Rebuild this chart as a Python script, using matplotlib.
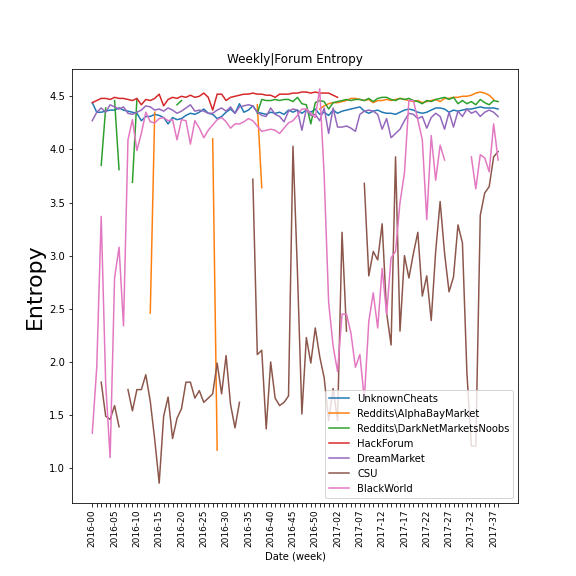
import numpy as np
import matplotlib
matplotlib.use("Agg")
import matplotlib.pyplot as plt

nan = np.nan
# week labels: 2016-00 .. 2016-52, 2017-00 .. 2017-38
weeks = ["2016-%02d" % w for w in range(53)] + ["2017-%02d" % w for w in range(39)]

unknown_cheats = [4.44, 4.35, 4.35, 4.36, 4.37, 4.37, 4.39, 4.37, 4.36, 4.35,
                  4.34, 4.27, 4.31, 4.31, 4.33, 4.32, 4.30, 4.24, 4.30, 4.28,
                  4.29, 4.32, 4.34, 4.33, 4.35, 4.38, 4.34, 4.33, 4.29, 4.31,
                  4.35, 4.38, 4.34, 4.43, 4.35, 4.37, 4.41, 4.35, 4.34, 4.33,
                  4.35, 4.34, 4.35, 4.33, 4.37, 4.35, 4.37, 4.34, 4.37, 4.35,
                  4.38, 4.33, 4.35, 4.32, 4.37, 4.34, 4.36, 4.37, 4.38, 4.39,
                  4.40, 4.36, 4.34, 4.36, 4.37, 4.35, 4.34, 4.34, 4.33, 4.35,
                  4.37, 4.38, 4.37, 4.35, 4.34, 4.35, 4.37, 4.39, 4.39, 4.38,
                  4.35, 4.37, 4.36, 4.37, 4.38, 4.38, 4.39, 4.40, 4.39, 4.39,
                  4.39, 4.38]

alphabay = [nan] * 13 + [2.46, 4.35] + [nan] * 12 + [4.10, 1.17] + [nan] * 8 + [4.42, 3.64] + [nan] * 12 + \
           [4.38, 4.41, 4.43, 4.44, 4.44, 4.45, 4.46, 4.48, 4.48,
            4.47, 4.46, 4.47, 4.44, 4.46, 4.46, 4.47, 4.46, 4.47, 4.48,
            4.47, 4.46, 4.45, 4.46, 4.44, 4.45, 4.46, 4.47, 4.45, 4.48,
            4.48, 4.49, 4.49, 4.50, 4.50, 4.51, 4.53, 4.54, 4.53, 4.51,
            4.47, nan]

darknet_noobs = [nan, nan, 3.85, 4.39, nan, 4.46, 3.81, nan, nan, 3.69,
                 4.47, nan, nan, nan, nan, nan, nan, nan, nan, 4.42,
                 4.46] + [nan] * 16 + \
                [4.34, 4.47, 4.46, 4.46, 4.47, 4.46, 4.47, 4.47, 4.45, 4.49,
                 4.43, 4.42, 4.24, 4.44, 4.46, 4.45, 4.38, 4.44, 4.45, 4.46,
                 4.47, 4.46, 4.47, 4.47, 4.46, 4.48, 4.45, 4.48, 4.49, 4.49,
                 4.47, 4.46, 4.48, 4.47, 4.48, 4.46, 4.45, 4.43, 4.46, 4.45,
                 4.47, 4.48, 4.49, 4.47, 4.49, 4.43, 4.46, 4.43, 4.45, 4.42,
                 4.47, 4.44, 4.42, 4.46, 4.45]

hackforum = [4.44, 4.46, 4.48, 4.48, 4.47, 4.49, 4.48, 4.48, 4.47, 4.46,
             4.48, 4.42, 4.47, 4.46, 4.48, 4.52, 4.41, 4.47, 4.49, 4.48,
             4.50, 4.49, 4.51, 4.49, 4.50, 4.53, 4.49, 4.37, 4.52, 4.52,
             4.46, 4.49, 4.50, 4.51, 4.52, 4.52, 4.53, 4.52, 4.52, 4.51,
             4.51, 4.49, 4.52, 4.52, 4.52, 4.53, 4.53, 4.54, 4.54, 4.53,
             4.54, 4.53, 4.53, 4.53, 4.51, 4.49] + [nan] * 36

dreammarket = [4.27, 4.35, 4.39, 4.35, 4.42, 4.40, 4.38, 4.40, 4.34, 4.33,
               4.35, 4.37, 4.41, 4.40, 4.37, 4.38, 4.36, 4.39, 4.37, 4.34,
               4.36, 4.39, 4.42, 4.36, 4.37, 4.36, 4.34, 4.34, 4.37, 4.39,
               4.36, 4.40, 4.34, 4.40, 4.41, 4.42, 4.41, 4.35, 4.32, 4.31,
               4.39, 4.33, 4.31, 4.26, 4.36, 4.38, 4.37, 4.18, 4.38, 4.32,
               4.33, 4.27, 4.39, 4.15, 4.39, 4.21, 4.21, 4.22, 4.20, 4.17,
               4.33, 4.36, 4.37, 4.36, 4.33, 4.19, 4.29, 4.11, 4.15, 4.19,
               4.27, 4.34, 4.33, 4.29, 4.31, 4.20, 4.30, 4.34, 4.31, 4.19,
               4.35, 4.21, 4.36, 4.31, 4.38, 4.34, 4.36, 4.31, 4.35, 4.37,
               4.35, 4.31]

csu = [nan, nan, 1.81, 1.49, 1.46, 1.59, 1.39, nan, 1.74, 1.54,
       1.74, 1.74, 1.88, 1.63, 1.27, 0.86, 1.49, 1.67, 1.28, 1.47,
       1.56, 1.81, 1.81, 1.66, 1.73, 1.62, 1.66, 1.70, 1.99, 1.70,
       2.06, 1.60, 1.38, 1.62, nan, nan, 3.72, 2.07, 2.11, 1.37,
       2.00, 1.66, 1.59, 1.62, 1.68, 4.03, 2.85, 1.51, 2.23, 1.99,
       2.32, 2.05, 1.85, 1.45, 1.75, 1.45, 3.22, 2.29, nan, nan,
       nan, 3.68, 2.81, 3.04, 2.96, 3.30, 2.46, 2.16, 3.93, 2.29,
       3.00, 2.79, 3.02, 3.22, 2.62, 2.81, 2.39, 3.04, 3.51, 3.02,
       2.66, 2.80, 3.29, 3.12, 1.90, 1.21, 1.21, 3.38, 3.59, 3.65,
       3.93, 3.98]

blackworld = [1.33, 1.95, 3.37, 1.80, 1.10, 2.79, 3.08, 2.34, 4.09, 4.28,
              3.99, 4.15, 4.35, 4.26, 4.25, 4.29, 4.30, 4.27, 4.28, 4.09,
              4.28, 4.27, 4.05, 4.27, 4.20, 4.11, 4.18, 4.23, 4.28, 4.30,
              4.26, 4.20, 4.24, 4.24, 4.26, 4.29, 4.27, 4.22, 4.17, 4.18,
              4.19, 4.18, 4.15, 4.20, 4.25, 4.27, 4.32, 4.38, 4.38, 4.34,
              4.30, 4.57, 3.75, 2.56, 2.15, 1.91, 2.45, 2.45, 2.27, 1.95,
              2.07, 1.65, 2.38, 2.65, 2.32, 2.88, 2.45, 2.98, 3.04, 3.50,
              3.78, 4.46, 4.46, 4.28, 4.09, 3.34, 4.13, 3.71, 4.04, 3.90,
              nan, nan, nan, nan, nan, 3.93, 3.63, 3.95, 3.92, 3.79,
              4.24, 3.90]

series = [("UnknownCheats", unknown_cheats),
          ("Reddits\\AlphaBayMarket", alphabay),
          ("Reddits\\DarkNetMarketsNoobs", darknet_noobs),
          ("HackForum", hackforum),
          ("DreamMarket", dreammarket),
          ("CSU", csu),
          ("BlackWorld", blackworld)]

fig = plt.figure(figsize=(8, 8), dpi=72)
ax = fig.add_subplot(111)
fig.subplots_adjust(left=0.125, right=0.9, top=0.88, bottom=0.127)
x = np.arange(len(weeks))
for name, vals in series:
    ax.plot(x, vals, label=name)

ax.set_xticks(x)
ax.set_xticklabels([w if i % 5 == 0 else "" for i, w in enumerate(weeks)], rotation=90, fontsize=9)
ax.set_title("Weekly|Forum Entropy", fontsize=12)
ax.set_ylabel("Entropy", fontsize=22)
ax.set_xlabel("Date (week)", fontsize=10)
ax.legend(loc="lower right", fontsize=10)
fig.savefig("out.png", dpi=72)
